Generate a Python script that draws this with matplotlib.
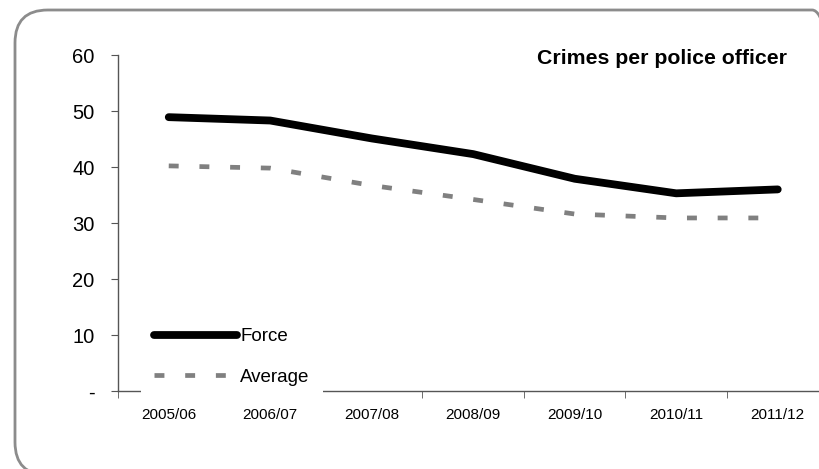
import matplotlib
matplotlib.use("Agg")
import matplotlib.pyplot as plt
from matplotlib.patches import FancyBboxPatch
import numpy as np

plt.rcParams['font.family'] = ['Liberation Sans', 'DejaVu Sans']

years = ["2005/06", "2006/07", "2007/08", "2008/09", "2009/10", "2010/11", "2011/12"]
force = [48.9, 48.3, 45.1, 42.3, 37.9, 35.3, 36.0]
average = [40.2, 39.8, 36.7, 34.2, 31.6, 30.9, 30.9]
y_ticks = [0, 10, 20, 30, 40, 50, 60]
y_labels = ["-", "10", "20", "30", "40", "50", "60"]

W, H = 820, 469
fig = plt.figure(figsize=(W / 100, H / 100), dpi=100)

# rounded outer frame
frame = FancyBboxPatch((15 / W, 1 - 475 / H), 830 / W, 465 / H,
                       boxstyle="round,pad=0,rounding_size=0.04",
                       mutation_aspect=W / H,
                       transform=fig.transFigure, facecolor="none",
                       edgecolor="#8c8c8c", linewidth=2, zorder=0)
fig.patches.append(frame)

ax = fig.add_axes([118 / W, (H - 391) / H, 710.5 / W, 336 / H])
ax.patch.set_alpha(0)

x = np.arange(len(years))
ax.plot(x, force, color="black", linewidth=5.6, solid_capstyle="round",
        solid_joinstyle="round", label="Force")
ax.plot(x, average, color="#808080", linewidth=3.4, dashes=(2.1, 4.4),
        label="Average")

ax.set_xlim(-0.5, len(years) - 0.5)
ax.set_ylim(0, 60)
ax.set_yticks(y_ticks)
ax.set_yticklabels(y_labels, fontsize=14.5)
ax.set_xticks(x)
ax.set_xticklabels(years, fontsize=11)
ax.set_xticks(np.arange(len(years) + 1) - 0.5, minor=True)
ax.tick_params(axis="x", which="major", length=0, pad=12)
ax.tick_params(axis="x", which="minor", length=5, color="#555555")
ax.tick_params(axis="y", length=5, color="#555555", pad=12)

for s in ["top", "right"]:
    ax.spines[s].set_visible(False)
for s in ["left", "bottom"]:
    ax.spines[s].set_color("#555555")
    ax.spines[s].set_linewidth(1)

fig.text(787 / W, 1 - 58 / H, "Crimes per police officer", fontsize=15.3,
         fontweight="bold", ha="right", va="center")

leg = ax.legend(loc="center left", bbox_to_anchor=(141 / W, 1 - 357 / H),
                bbox_transform=fig.transFigure, fontsize=13.5, frameon=True,
                facecolor="white", edgecolor="none", framealpha=1,
                fancybox=False, handlelength=4.4, handletextpad=0.2,
                labelspacing=1.25, borderpad=0.7, borderaxespad=0)
leg.set_zorder(5)

fig.savefig("out.png", dpi=100)
